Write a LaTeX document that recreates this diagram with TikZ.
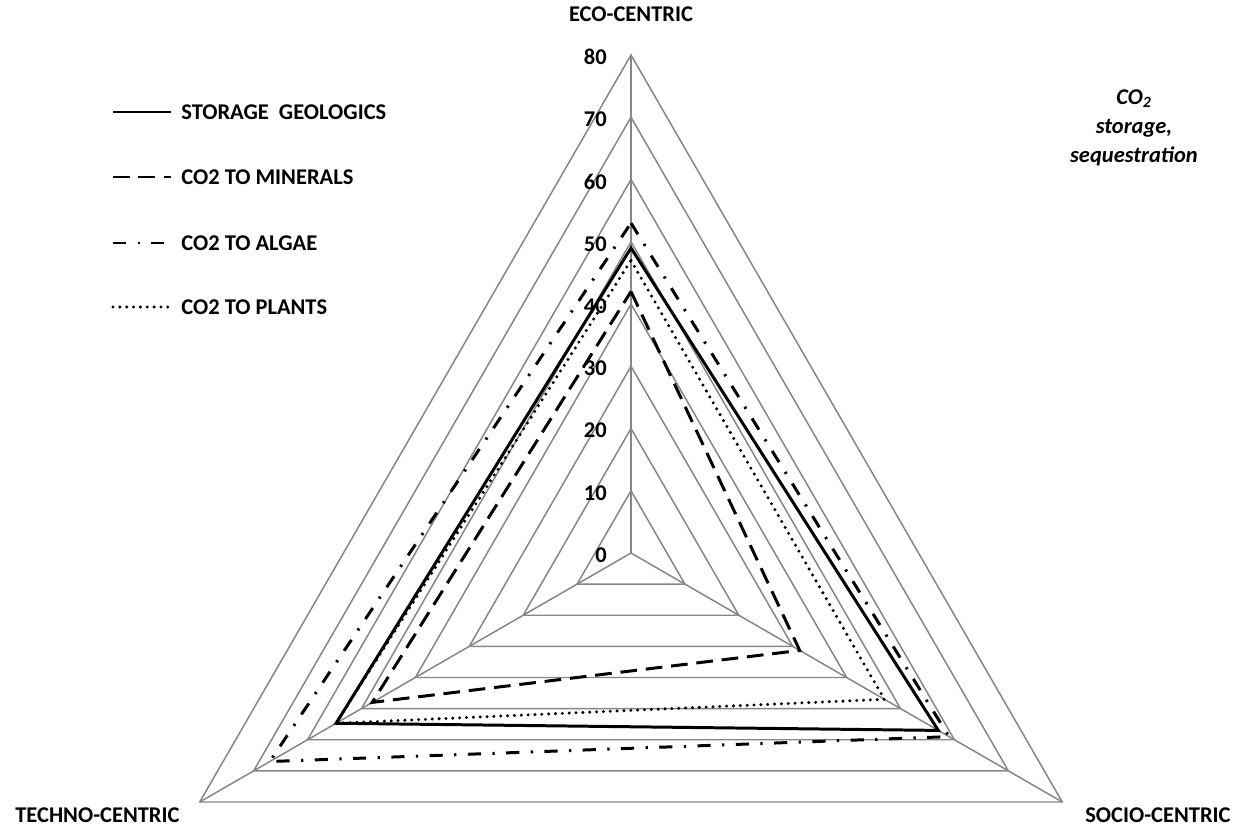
\documentclass[tikz,border=0pt]{standalone}
\usepackage{fontspec}
\setmainfont{Carlito}
\definecolor{gridgray}{RGB}{134,134,134}
\tikzset{gridline/.style={draw=gridgray,line width=0.85pt}}
\tikzset{axistitle/.style={font=\fontsize{12.8}{15.5}\selectfont\bfseries,inner sep=0pt}}
\tikzset{ticklabel/.style={font=\fontsize{12.8}{15.5}\selectfont\bfseries,inner sep=0pt,anchor=east}}
\tikzset{legendtext/.style={font=\fontsize{12.8}{15.5}\selectfont\bfseries,inner sep=0pt,anchor=west}}
\tikzset{seriesgeo/.style={line width=1.7pt}}
\tikzset{seriesmin/.style={line width=1.7pt,dash pattern=on 9.5pt off 5pt}}
\tikzset{seriesalg/.style={line width=1.7pt,dash pattern=on 7.5pt off 6.5pt on 1.3pt off 6.5pt}}
\tikzset{seriespla/.style={line width=1.9pt,line cap=round,dash pattern=on 0pt off 3.9pt}}

\begin{document}
\begin{tikzpicture}[x=0.02cm,y=0.02cm]
  \useasboundingbox (0,0) rectangle (1242,826);
  % radar frame, centre of the chart
  \coordinate (c) at (631,273);
  \begin{scope}[shift={(c)}]
    \foreach \k in {1,...,8}
      \draw[gridline] (90:\k*62.25) -- (-30:\k*62.25) -- (210:\k*62.25) -- cycle;
    \foreach \a/\n in {90/eco,-30/socio,210/techno}
      \coordinate (\n-end) at (\a:498);
    \foreach \n in {eco,socio,techno}
      \draw[gridline] (0,0) -- (\n-end);
    \foreach \v in {0,10,...,80}
      \node[ticklabel] (tick\v) at (-24,{\v*6.225-2}) {\v};
    % data series: name/eco/socio/techno/style
    \foreach \s/\e/\o/\t in {
        geo/49/57/54.7,
        min/42/31.3/48,
        alg/53/59/67,
        pla/47/47/54.7}
    {
      \coordinate (\s-eco) at (90:\e*6.225);
      \coordinate (\s-socio) at (-30:\o*6.225);
      \coordinate (\s-techno) at (210:\t*6.225);
      \draw[series\s] (\s-eco) -- (\s-socio) -- (\s-techno) -- cycle;
    }
  \end{scope}
  % axis titles
  \node[axistitle] (ecotitle) at (631,812) {ECO-CENTRIC};
  \node[axistitle,anchor=west] (technotitle) at (15,11) {TECHNO-CENTRIC};
  \node[axistitle,anchor=west] (sociotitle) at (1085,11) {SOCIO-CENTRIC};
  \node[axistitle,font=\fontsize{12.8}{15.5}\selectfont\bfseries\itshape,align=center]
    (note) at (1134,698) {CO\textsubscript{2}\\[1pt]storage,\\[1pt]sequestration};
  % legend
  \foreach \i/\s/\y/\l in {
      1/geo/714/{STORAGE~~GEOLOGICS},
      2/min/649/{CO2 TO MINERALS},
      3/alg/583/{CO2 TO ALGAE},
      4/pla/519/{CO2 TO PLANTS}}
  {
    \coordinate (leg\i-a) at (113,\y);
    \coordinate (leg\i-b) at (171,\y);
    \draw[series\s] (leg\i-a) -- (leg\i-b);
    \node[legendtext] (legtext\i) at (181,\y) {\l};
  }
\end{tikzpicture}
\end{document}
